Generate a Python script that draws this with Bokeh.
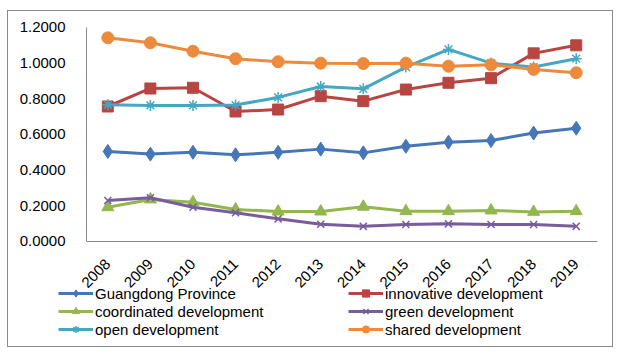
from bokeh.plotting import figure
from bokeh.models import Range1d, Legend, LegendItem, FixedTicker, NumeralTickFormatter, CustomJSTickFormatter
from bokeh.embed import file_html
from bokeh.resources import INLINE
import math

years = ["2008", "2009", "2010", "2011", "2012", "2013", "2014", "2015", "2016", "2017", "2018", "2019"]
guangdong = [0.505, 0.490, 0.500, 0.486, 0.500, 0.518, 0.497, 0.534, 0.557, 0.566, 0.608, 0.635]
innovative = [0.757, 0.858, 0.862, 0.729, 0.740, 0.815, 0.787, 0.852, 0.890, 0.916, 1.055, 1.100]
coordinated = [0.192, 0.236, 0.220, 0.180, 0.168, 0.168, 0.195, 0.170, 0.170, 0.174, 0.166, 0.170]
green = [0.230, 0.245, 0.192, 0.161, 0.127, 0.097, 0.085, 0.095, 0.099, 0.095, 0.095, 0.085]
open_dev = [0.767, 0.763, 0.763, 0.765, 0.808, 0.869, 0.856, 0.978, 1.077, 1.000, 0.978, 1.025]
shared = [1.142, 1.114, 1.067, 1.025, 1.008, 1.000, 0.998, 1.000, 0.983, 0.991, 0.965, 0.946]
y_ticks = [0.0, 0.2, 0.4, 0.6, 0.8, 1.0, 1.2]

FONT = "Liberation Sans"

# category slots: year i occupies [i, i+1], centred at i + 0.5
xs = [i + 0.5 for i in range(len(years))]
n = len(years)

p = figure(width=606, height=337, x_range=Range1d(-1.832, n + 0.399),
           y_range=Range1d(-0.600, 1.2897), output_backend="svg", toolbar_location=None,
           min_border_left=0, min_border_right=0, min_border_top=0, min_border_bottom=0)
p.margin = (10, 0, 0, 7)
p.styles = {"border": "1px solid #8a8a8a"}
p.outline_line_color = None
p.xgrid.visible = False
p.ygrid.visible = False

for ax in (p.xaxis[0], p.yaxis[0]):
    ax.axis_line_color = "#8a8a8a"
    ax.axis_line_width = 1
    ax.major_tick_line_color = None
    ax.minor_tick_line_color = None
    ax.major_tick_out = 0
    ax.major_tick_in = 0
    ax.minor_tick_out = 0
    ax.minor_tick_in = 0
    ax.major_label_text_font = FONT
    ax.major_label_text_font_size = "15px"
    ax.major_label_text_color = "#000000"

p.yaxis.fixed_location = 0
p.yaxis.bounds = (0, 1.2)
p.yaxis.ticker = FixedTicker(ticks=y_ticks)
p.yaxis.formatter = NumeralTickFormatter(format="0.0000")
p.yaxis.major_label_standoff = 21

p.xaxis.fixed_location = 0
p.xaxis.bounds = (0, n)
p.xaxis.ticker = FixedTicker(ticks=xs)
p.xaxis.formatter = CustomJSTickFormatter(args=dict(years=years),
                                          code="return years[Math.floor(tick)];")
p.xaxis.major_label_orientation = math.pi / 4
p.xaxis.major_label_standoff = 20

series = [
    ("Guangdong Province", guangdong, "#4577b8", "diamond", 14),
    ("innovative development", innovative, "#b94542", "square", 11),
    ("coordinated development", coordinated, "#94b650", "triangle", 12),
    ("green development", green, "#785c9c", "x", 10),
    ("open development", open_dev, "#45a7c2", "asterisk", 11),
    ("shared development", shared, "#ee8a3c", "circle", 12),
]

items = {}
for name, vals, col, marker, size in series:
    lr = p.line(xs, vals, line_color=col, line_width=3)
    if marker in ("x", "asterisk"):
        sr = p.scatter(xs, vals, marker=marker, size=size, line_color=col, line_width=1.5)
    else:
        sr = p.scatter(xs, vals, marker=marker, size=size, fill_color=col, line_color=col)
    items[name] = LegendItem(label=name, renderers=[lr, sr])


def make_legend(names, loc):
    return Legend(items=[items[k] for k in names], location=loc, orientation="vertical",
                  padding=0, margin=0, spacing=0, border_line_color=None,
                  background_fill_alpha=0, glyph_width=35, glyph_height=18,
                  label_height=18, label_standoff=2,
                  label_text_font=FONT, label_text_font_size="15px",
                  label_text_color="#000000", label_text_baseline="middle")


p.add_layout(make_legend(["Guangdong Province", "coordinated development", "open development"], (50, 10)), "center")
p.add_layout(make_legend(["innovative development", "green development", "shared development"], (340, 10)), "center")

open("out.html", "w").write(file_html(p, INLINE))
